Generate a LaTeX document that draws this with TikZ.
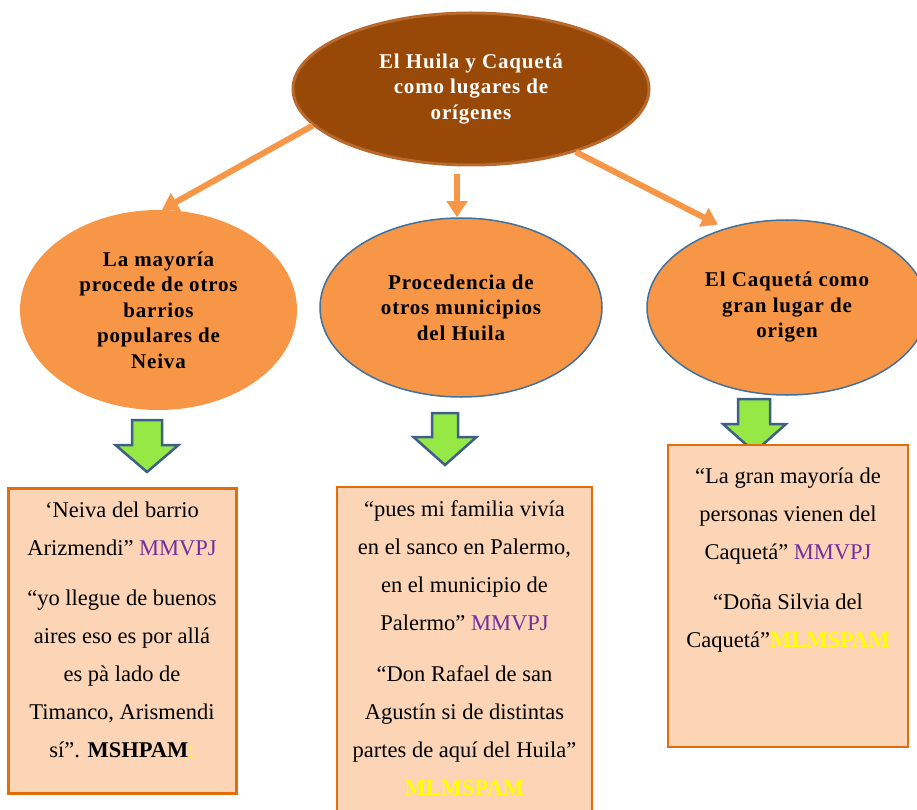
\documentclass[tikz,border=0pt]{standalone}
\usepackage{fontspec}
\setmainfont{Liberation Serif}
\usetikzlibrary{shapes.geometric,arrows.meta}
\definecolor{topfill}{HTML}{984807}
\definecolor{topdraw}{HTML}{B9692E}
\definecolor{orfill}{HTML}{F79646}
\definecolor{bluedraw}{HTML}{41719C}
\definecolor{boxfill}{HTML}{FBD5B5}
\definecolor{boxdraw}{HTML}{E46C0A}
\definecolor{grn}{HTML}{96E845}
\definecolor{grndraw}{HTML}{3D5F8A}
\definecolor{purp}{HTML}{7030A0}
\definecolor{yel}{HTML}{FFFF00}
\begin{document}
\begin{tikzpicture}[x=1pt,y=-1pt,
  ell/.style={ellipse, inner sep=0pt, align=center,
    font=\bfseries\fontsize{21}{25.5}\selectfont\addfontfeature{LetterSpace=4}},
  orell/.style={ell, fill=orfill},
  conn/.style={draw=orfill, line width=6pt,
    -{Triangle[width=20pt,length=16pt]}},
  quotebox/.style={rectangle, draw=boxdraw, fill=boxfill, inner sep=0pt},
  quotetxt/.style={align=center, inner sep=0pt, anchor=north,
    font=\fontsize{22.5}{38}\selectfont},
  downarrow/.style={fill=grn, draw=grndraw, line width=2.5pt, line join=miter}
]
\useasboundingbox (0,0) rectangle (917,810);
\clip (0,0) rectangle (917,810);

% ellipses
\node[ell, fill=topfill, draw=topdraw, line width=3pt, text=white,
  minimum width=356pt, minimum height=152pt] (top) at (471,89)
  {El Huila y Caquetá\\como lugares de\\orígenes};
\node[orell, minimum width=277pt, minimum height=200pt] (left) at (158.5,310)
  {La mayoría\\procede de otros\\barrios\\populares de\\Neiva};
\node[orell, draw=bluedraw, line width=1.5pt,
  minimum width=282pt, minimum height=179pt] (mid) at (461,307.5)
  {Procedencia de\\otros municipios\\del Huila};
\node[orell, draw=bluedraw, line width=1.5pt,
  minimum width=280pt, minimum height=175pt] (right) at (787,307.5)
  {El Caquetá como\\gran lugar de\\origen};

% connectors
\draw[conn] (top.193) -- (left.88);
\draw[conn] ([xshift=-14pt,yshift=-8pt]top.south) -- ([xshift=-4pt]mid.north);
\draw[conn, shorten >=8pt] (top.-31) -- (right.128);

% green block arrows
\draw[downarrow] (132,420) -- (162,420) -- (162,445) -- (178.5,445) -- (147,472)
  -- (115.5,445) -- (132,445) -- cycle;
\draw[downarrow] (432,413) -- (458,413) -- (458,437) -- (476.5,437) -- (445,465)
  -- (413.5,437) -- (432,437) -- cycle;
\draw[downarrow] (738,399) -- (770,399) -- (770,424) -- (786,424) -- (754.5,452)
  -- (723,424) -- (738,424) -- cycle;

% quote boxes
\node[quotebox, line width=3pt, minimum width=228pt, minimum height=305pt]
  (lbox) at (122,640.5) {};
\node[quotebox, line width=2pt, minimum width=255pt, minimum height=360pt]
  (mbox) at (464.5,667) {};
\node[quotebox, line width=2.5pt, minimum width=240pt, minimum height=302pt]
  (rbox) at (788,596) {};

\node[quotetxt] (ltxt) at (122,502)
  {‘Neiva del barrio\\Arizmendi” \textcolor{purp}{MMVPJ}\\[12pt]
   “yo llegue de buenos\\aires eso es por allá\\es pà lado de\\
   Timanco, Arismendi\\sí”. \textbf{MSHPAM}\textcolor{yel}{:}};
\node[quotetxt] (mtxt) at (464.5,500)
  {“pues mi familia vivía\\en el sanco en Palermo,\\en el municipio de\\
   Palermo” \textcolor{purp}{MMVPJ}\\[13pt]
   “Don Rafael de san\\Agustín si de distintas\\partes de aquí del Huila”\\
   \textcolor{yel}{\textbf{MLMSPAM}}};
\node[quotetxt] (rtxt) at (788,468)
  {“La gran mayoría de\\personas vienen del\\Caquetá” \textcolor{purp}{MMVPJ}\\[12pt]
   “Doña Silvia del\\Caquetá”\textcolor{yel}{\textbf{MLMSPAM}}};
\end{tikzpicture}
\end{document}
